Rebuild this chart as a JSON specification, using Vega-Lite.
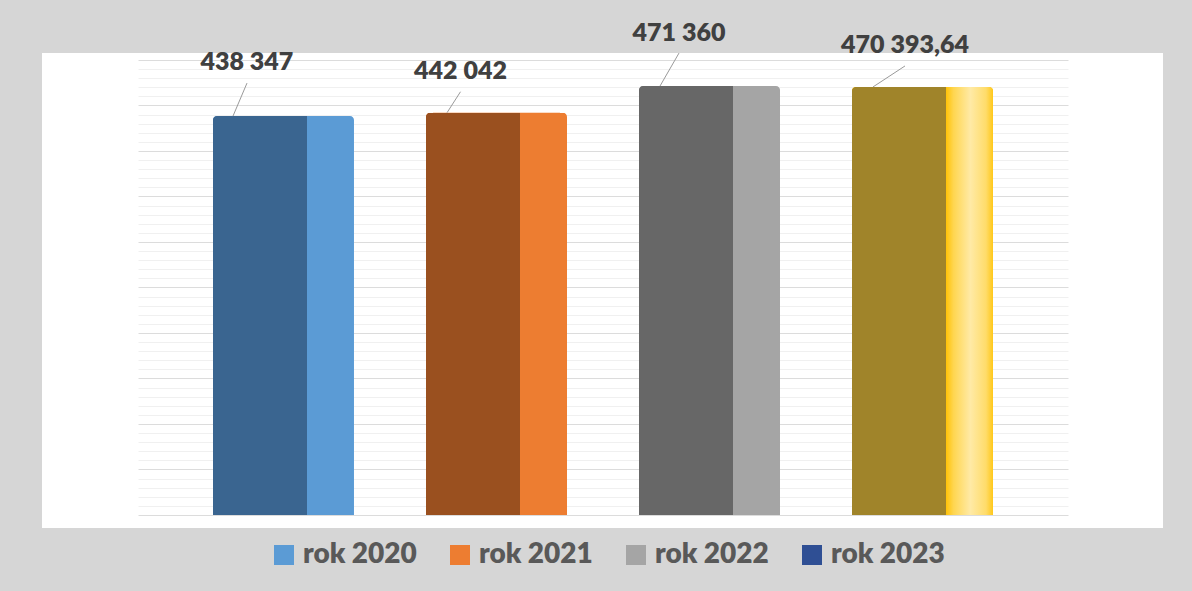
{
  "$schema": "https://vega.github.io/schema/vega-lite/v6.json",
  "autosize": {"type": "none"},
  "width": 1121,
  "height": 475,
  "padding": {"left": 42, "top": 53, "right": 29, "bottom": 63},
  "background": "#d6d6d6",
  "config": {
    "view": {"stroke": null, "fill": "#ffffff"},
    "locale": {"number": {"decimal": ",", "thousands": " ", "grouping": [3], "currency": ["", ""]}},
    "text": {"font": "Lato", "fontWeight": 800, "fontSize": 25, "color": "#404040", "baseline": "middle", "align": "center"}
  },
  "data": {"values": [
    {"year": "rok 2020", "value": 438347},
    {"year": "rok 2021", "value": 442042},
    {"year": "rok 2022", "value": 471360},
    {"year": "rok 2023", "value": 470393.64}
  ]},
  "encoding": {
    "x": {"field": "year", "type": "nominal", "axis": null,
      "scale": {"range": [96, 1026], "paddingInner": 0.338, "paddingOuter": 0.352}},
    "y": {"field": "value", "type": "quantitative",
      "scale": {"domain": [-14286, 507692], "nice": false, "zero": false},
      "axis": {
        "title": null, "labels": false, "ticks": false, "domain": false, "grid": true,
        "values": [0,10000,20000,30000,40000,50000,60000,70000,80000,90000,100000,110000,120000,130000,140000,150000,160000,170000,180000,190000,200000,210000,220000,230000,240000,250000,260000,270000,280000,290000,300000,310000,320000,330000,340000,350000,360000,370000,380000,390000,400000,410000,420000,430000,440000,450000,460000,470000,480000,490000,500000],
        "gridColor": {"condition": {"test": "datum.value % 50000 === 0", "value": "#dcdcdc"}, "value": "#f0f0f0"},
        "gridWidth": 1
      }}
  },
  "layer": [
    {
      "mark": {"type": "bar", "width": {"band": 0.9}},
      "encoding": {
        "color": {"field": "year", "type": "nominal",
          "scale": {"range": ["#5b9bd5", "#ed7d31", "#a5a5a5", "#2f4f94"]},
          "legend": {
            "title": null, "orient": "none", "direction": "horizontal",
            "legendX": 228, "legendY": 488,
            "symbolType": "square", "symbolSize": 400, "symbolStrokeWidth": 0,
            "labelFont": "Lato", "labelFontWeight": 800, "labelFontSize": 28,
            "labelColor": "#595959", "labelOffset": 5, "columnPadding": 29,
            "padding": 0, "labelLimit": 300
          }}
      }
    },
    {
      "mark": {"type": "bar", "cornerRadiusTopLeft": 4, "cornerRadiusTopRight": 4},
      "encoding": {
        "color": {"field": "year", "type": "nominal",
          "scale": {"range": ["#5b9bd5", "#ed7d31", "#a5a5a5", "#ffc000"]},
          "legend": null}
      }
    },
    {
      "transform": [{"filter": "datum.year === 'rok 2023'"}],
      "mark": {"type": "bar", "cornerRadiusTopLeft": 4, "cornerRadiusTopRight": 4,
        "color": {"gradient": "linear", "x1": 0, "x2": 1, "y1": 0, "y2": 0,
          "stops": [
            {"offset": 0.66, "color": "#ffc000"},
            {"offset": 0.72, "color": "#ffd650"},
            {"offset": 0.84, "color": "#ffeaa6"},
            {"offset": 0.95, "color": "#ffdc6a"},
            {"offset": 1, "color": "#ffc81a"}
          ]}}
    },
    {
      "mark": {"type": "bar", "width": {"band": 0.667}, "xOffset": -23.5, "cornerRadiusTopLeft": 4},
      "encoding": {
        "color": {"field": "year", "type": "nominal",
          "scale": {"range": ["#3a6590", "#9a501f", "#676767", "#a0842a"]},
          "legend": null}
      }
    },
    {
      "transform": [{"filter": "datum.year === 'rok 2020'"}],
      "mark": {"type": "text", "dx": -36.5, "dy": -54},
      "encoding": {"text": {"field": "value", "type": "quantitative", "format": ",.2~f"}}
    },
    {
      "transform": [{"filter": "datum.year === 'rok 2021'"}],
      "mark": {"type": "text", "dx": -36, "dy": -42},
      "encoding": {"text": {"field": "value", "type": "quantitative", "format": ",.2~f"}}
    },
    {
      "transform": [{"filter": "datum.year === 'rok 2022'"}],
      "mark": {"type": "text", "dx": -30.5, "dy": -53},
      "encoding": {"text": {"field": "value", "type": "quantitative", "format": ",.2~f"}}
    },
    {
      "transform": [{"filter": "datum.year === 'rok 2023'"}],
      "mark": {"type": "text", "dx": -17.5, "dy": -42},
      "encoding": {"text": {"field": "value", "type": "quantitative", "format": ",.2~f"}}
    },
    {
      "transform": [{"filter": "datum.year === 'rok 2020'"}],
      "mark": {"type": "rule", "color": "#9a9a9a", "strokeWidth": 1, "xOffset": -50.5, "x2Offset": -36.5, "y2Offset": -33},
      "encoding": {"x2": {"field": "year"}, "y2": {"field": "value"}}
    },
    {
      "transform": [{"filter": "datum.year === 'rok 2021'"}],
      "mark": {"type": "rule", "color": "#9a9a9a", "strokeWidth": 1, "xOffset": -49.5, "x2Offset": -36, "y2Offset": -21},
      "encoding": {"x2": {"field": "year"}, "y2": {"field": "value"}}
    },
    {
      "transform": [{"filter": "datum.year === 'rok 2022'"}],
      "mark": {"type": "rule", "color": "#9a9a9a", "strokeWidth": 1, "xOffset": -49.5, "x2Offset": -30.5, "y2Offset": -33},
      "encoding": {"x2": {"field": "year"}, "y2": {"field": "value"}}
    },
    {
      "transform": [{"filter": "datum.year === 'rok 2023'"}],
      "mark": {"type": "rule", "color": "#9a9a9a", "strokeWidth": 1, "xOffset": -49.5, "x2Offset": -17.5, "y2Offset": -21},
      "encoding": {"x2": {"field": "year"}, "y2": {"field": "value"}}
    }
  ],
  "resolve": {"scale": {"color": "independent"}}
}
